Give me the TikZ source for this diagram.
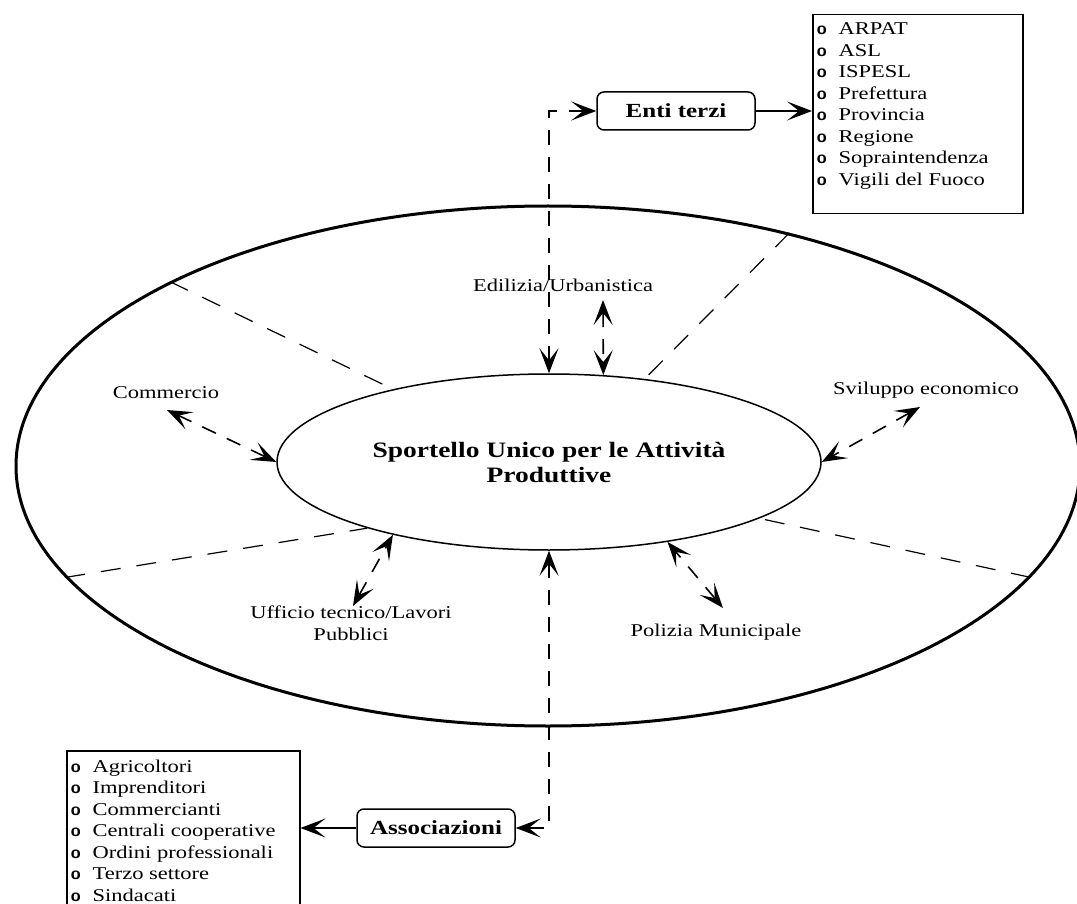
\documentclass[tikz,border=0pt]{standalone}
\usepackage{fontspec}
\setmainfont{Liberation Serif}[FakeStretch=1.25]
\usetikzlibrary{arrows.meta,shapes.geometric}

\newcommand\bul{\hspace*{4pt}\textsf{\textbf{o}}\hspace{12pt}}

\begin{document}
\begin{tikzpicture}[
  x=1pt, y=-1pt,
  >={Stealth[length=25pt,width=19pt,inset=12pt]},
  office/.style={font=\fontsize{18}{22}\selectfont, align=center, inner sep=0pt},
  hub/.style={ellipse, draw, line width=1.5pt, minimum width=544pt,
    minimum height=176pt, inner sep=0pt, align=center,
    font=\fontsize{22}{25}\selectfont\bfseries},
  ring/.style={ellipse, draw, line width=3pt, minimum width=1064pt, minimum height=520pt},
  partner/.style={draw, rounded corners=7pt, line width=1.5pt, minimum width=158pt,
    minimum height=38pt, font=\fontsize{20}{24}\selectfont\bfseries},
  listbox/.style={draw, line width=1.5pt, inner sep=0pt, anchor=north west,
    font=\fontsize{18}{21.5}\selectfont},
  link/.style={<->, line width=1.6pt, dash pattern=on 15pt off 12pt},
  sector/.style={line width=1.2pt, dash pattern=on 20pt off 16pt},
  feed/.style={->, line width=1.3pt}
]
  \useasboundingbox (0,0) rectangle (1077,904);
  \clip (0,0) rectangle (1077,904);

  % the two rings
  \node[ring] (ring) at (548,466) {};
  \node[hub] (suap) at (549,462) {Sportello Unico per le Attività\\Produttive};

  % sector borders
  \draw[sector] (ring.154) -- (suap.155);
  \draw[sector] (ring.44) -- (suap.41);
  \draw[sector] (ring.193) -- (suap.200);
  \draw[sector] (ring.-13) -- (suap.-15);

  % offices
  \node[office] (edil) at (563,285) {Edilizia/Urbanistica};
  \node[office] (comm) at (166,393) {Commercio};
  \node[office] (svil) at (926,390) {Sviluppo economico};
  \node[office] (uff) at (351,623) {Ufficio tecnico/Lavori\\Pubblici};
  \node[office] (pol) at (716,632) {Polizia Municipale};

  \coordinate (comm tip) at (167,410);
  \coordinate (svil tip) at (920,407);
  \coordinate (edil tip) at (603,300);
  \coordinate (uff tip) at (353,606);
  \coordinate (pol tip) at (723,608);

  \draw[link] (comm tip) -- (suap.west);
  \draw[link] (svil tip) -- (suap.east);
  \draw[link] (edil tip) -- (suap.58);
  \draw[link] (uff tip) -- (suap.205);
  \draw[link] (pol tip) -- (suap.-34);

  % outside partners
  \node[partner] (enti) at (676,111) {Enti terzi};
  \node[partner] (assoc) at (436,828) {Associazioni};

  \node[listbox] (entilist) at (812,14) {\parbox[t][199pt][t]{210pt}{\vspace{8pt}%
    \bul ARPAT\\\bul ASL\\\bul ISPESL\\\bul Prefettura\\\bul Provincia\\
    \bul Regione\\\bul Sopraintendenza\\\bul Vigili del Fuoco}};
  \node[listbox] (assoclist) at (66,750) {\parbox[t][170pt][t]{233pt}{\vspace{9pt}%
    \bul Agricoltori\\\bul Imprenditori\\\bul Commercianti\\\bul Centrali cooperative\\
    \bul Ordini professionali\\\bul Terzo settore\\\bul Sindacati}};

  \draw[link] (suap.north) |- (enti.west);
  \draw[link, line width=2pt] (suap.south) |- (assoc.east);
  \draw[feed] (enti.east) -- (enti.east -| entilist.west);
  \draw[feed] (assoc.west) -- (assoc.west -| assoclist.east);
\end{tikzpicture}
\end{document}
